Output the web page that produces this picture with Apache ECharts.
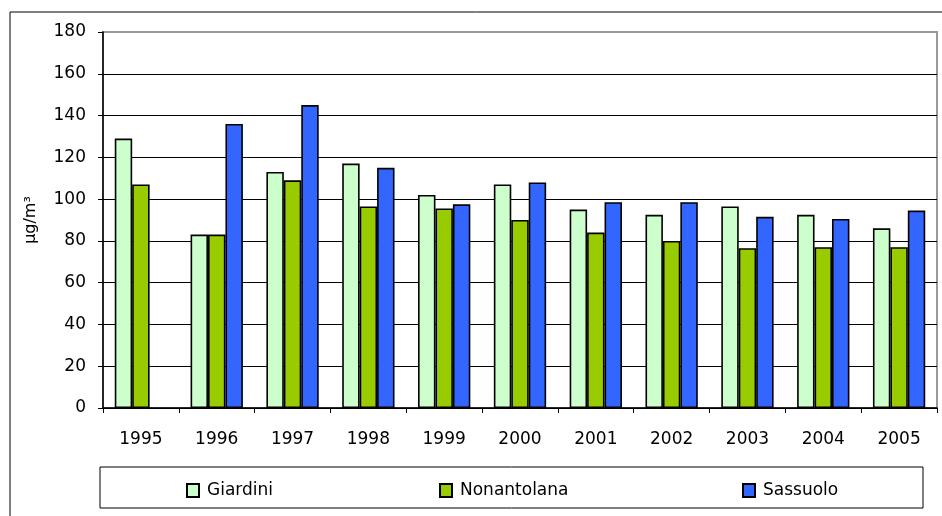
<!DOCTYPE html>
<html>
<head>
<meta charset="utf-8">
<script src="https://cdn.jsdelivr.net/npm/echarts@6/dist/echarts.min.js"></script>
<style>html,body{margin:0;padding:0;background:#fff}#c{width:942px;height:516px}</style>
</head>
<body>
<div id="c"></div>
<script>
var years = ['1995','1996','1997','1998','1999','2000','2001','2002','2003','2004','2005'];
var giardini = [129, 83, 113, 117, 102, 107, 95, 92.5, 96.5, 92.5, 86];
var nonantolana = [107, 83, 109, 96.5, 95.5, 90, 84, 80, 76.5, 77, 77];
var sassuolo = [null, 136, 145, 115, 97.5, 108, 98.5, 98.5, 91.5, 90.5, 94.5];
var yTicks = [0, 20, 40, 60, 80, 100, 120, 140, 160, 180];
var seriesNames = ['Giardini', 'Nonantolana', 'Sassuolo'];
var colors = ['#CCFFCC', '#99CC00', '#3366FF'];

var FONT = 'DejaVu Sans';
var chart = echarts.init(document.getElementById('c'), null, {renderer: 'canvas'});
var splitColors = yTicks.map(function (t, i) { return i === yTicks.length - 1 ? '#999999' : '#000000'; });
var dataSets = [giardini, nonantolana, sassuolo];
var legendLefts = [181, 434, 737];

chart.setOption({
  animation: false,
  backgroundColor: '#ffffff',
  textStyle: {fontFamily: FONT},
  graphic: [
    {type: 'rect', shape: {x: 10, y: 12, width: 1000, height: 600}, style: {fill: 'none', stroke: '#000', lineWidth: 1}, silent: true, z: -1},
    {type: 'rect', shape: {x: 100, y: 467, width: 823, height: 41}, style: {fill: '#fff', stroke: '#000', lineWidth: 1}, silent: true, z: -1}
  ],
  legend: seriesNames.map(function (n, i) {
    return {
      data: [n], left: legendLefts[i], top: 477, itemWidth: 12, itemHeight: 13, itemGap: 0,
      icon: 'rect',
      textStyle: {fontFamily: FONT, fontSize: 17, color: '#000', padding: [0, 0, 0, 3]},
      selectedMode: false
    };
  }),
  grid: {left: 103, right: 5, top: 32, bottom: 108, show: true, borderColor: '#999999', borderWidth: 2},
  xAxis: {
    type: 'category', data: years,
    axisLine: {lineStyle: {color: '#000', width: 1.5}},
    axisTick: {show: true, length: 5, lineStyle: {color: '#000'}},
    axisLabel: {fontFamily: FONT, fontSize: 17, color: '#000', margin: 23}
  },
  yAxis: {
    type: 'value', min: 0, max: 180, interval: 20,
    name: 'µg/m³', nameLocation: 'middle', nameRotate: 90, nameGap: 64,
    nameTextStyle: {fontFamily: FONT, fontSize: 16, color: '#000'},
    axisLine: {show: true, lineStyle: {color: '#000', width: 1.5}},
    axisTick: {show: true, length: 5, lineStyle: {color: '#000'}},
    axisLabel: {fontFamily: FONT, fontSize: 17, color: '#000', margin: 17},
    splitLine: {show: true, lineStyle: {color: splitColors, width: 1}}
  },
  series: dataSets.map(function (d, i) {
    return {
      name: seriesNames[i], type: 'bar', data: d,
      barGap: '0%', barCategoryGap: '31%',
      itemStyle: {color: colors[i], borderColor: '#000', borderWidth: 1.6}
    };
  })
});
</script>
</body>
</html>
